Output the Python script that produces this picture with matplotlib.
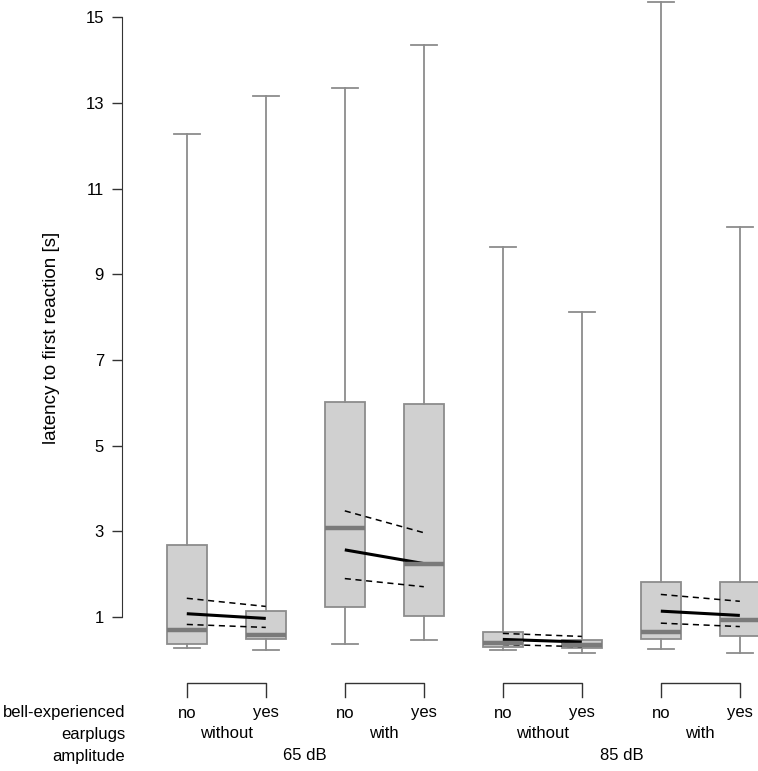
import numpy as np
import matplotlib
matplotlib.use('Agg')
import matplotlib.pyplot as plt
import matplotlib.transforms as mtransforms

plt.rcParams['font.family'] = ['Liberation Sans', 'DejaVu Sans']

# box statistics per group (65 dB without/with, 85 dB without/with; bell-experienced no/yes)
whisker_hi = [12.27, 13.15, 13.35, 14.35, 9.63, 8.13, 15.35, 10.1]
q3 = [2.68, 1.15, 6.03, 5.97, 0.65, 0.46, 1.82, 1.82]
medians = [0.71, 0.59, 3.08, 2.25, 0.40, 0.36, 0.66, 0.93]
q1 = [0.38, 0.48, 1.24, 1.03, 0.31, 0.29, 0.48, 0.56]
whisker_lo = [0.29, 0.24, 0.37, 0.47, 0.23, 0.16, 0.26, 0.17]

# model estimates (mean and confidence limits), one pair per earplugs x amplitude group
est_mean = [[1.08, 0.97], [2.57, 2.25], [0.48, 0.42], [1.14, 1.04]]
est_upper = [[1.44, 1.25], [3.48, 2.97], [0.62, 0.55], [1.53, 1.37]]
est_lower = [[0.83, 0.76], [1.90, 1.71], [0.36, 0.31], [0.86, 0.78]]

bell_labels = ['no', 'yes'] * 4
earplug_labels = ['without', 'with', 'without', 'with']
amp_labels = ['65 dB', '85 dB']

fig = plt.figure(figsize=(7.58, 7.71), dpi=100)
ax = fig.add_axes([122 / 758, 1 - 660 / 771, 1 - 122 / 758, 660 / 771])

pos = np.arange(1, 9)
stats = []
for i in range(8):
    stats.append(dict(med=medians[i], q1=q1[i], q3=q3[i],
                      whislo=whisker_lo[i], whishi=whisker_hi[i], fliers=[]))

edge = '#8c8c8c'
ax.bxp(stats, positions=pos, widths=0.5, patch_artist=True, showfliers=False,
       boxprops=dict(facecolor='#d0d0d0', edgecolor=edge, linewidth=1.3),
       medianprops=dict(color='#7a7a7a', linewidth=3.2, solid_capstyle='butt'),
       whiskerprops=dict(color=edge, linewidth=1.3),
       capprops=dict(color=edge, linewidth=1.3),
       capwidths=0.33)

for g in range(4):
    xs = pos[2 * g:2 * g + 2]
    ax.plot(xs, est_mean[g], color='black', lw=2.2, solid_capstyle='butt')
    ax.plot(xs, est_upper[g], color='black', lw=1.1, ls=(0, (4, 3)))
    ax.plot(xs, est_lower[g], color='black', lw=1.1, ls=(0, (4, 3)))

ax.set_xlim(0.18, 8.23)
ax.set_ylim(0, 15.4)
ax.set_yticks([1, 3, 5, 7, 9, 11, 13, 15])
ax.tick_params(axis='y', labelsize=12, length=7, width=1, colors='#333333', pad=6)
ax.tick_params(axis='y', labelcolor='black')
ax.set_xticks([])
for s in ['top', 'right', 'bottom']:
    ax.spines[s].set_visible(False)
ax.spines['left'].set_bounds(1, 15)
ax.spines['left'].set_color('#333333')
ax.set_ylabel('latency to first reaction [s]', fontsize=13.5)
ax.yaxis.set_label_coords(-(122 - 52) / 636, 1 - 338 / 660)
ax.yaxis.label.set_va('center')

# category labels below the plot
tr = mtransforms.blended_transform_factory(ax.transData, fig.transFigure)
def fy(p):
    return 1 - p / 771

for g in range(4):
    x0, x1 = pos[2 * g], pos[2 * g + 1]
    ax.plot([x0, x0, x1, x1], [fy(697), fy(683), fy(683), fy(697)], color='#333333',
            lw=1, transform=tr, clip_on=False)
    ax.text((x0 + x1) / 2, fy(734), earplug_labels[g], transform=tr,
            ha='center', va='center', fontsize=12)
for i in range(8):
    ax.text(pos[i], fy(713), bell_labels[i], transform=tr, ha='center', va='center', fontsize=12)
for k in range(2):
    ax.text((pos[4 * k] + pos[4 * k + 3]) / 2, fy(756), amp_labels[k], transform=tr,
            ha='center', va='center', fontsize=12)

for lab, p in [('bell-experienced', 713), ('earplugs', 734), ('amplitude', 756)]:
    fig.text(125 / 758, fy(p), lab, ha='right', va='center', fontsize=12)

fig.savefig('out.png', dpi=100)
